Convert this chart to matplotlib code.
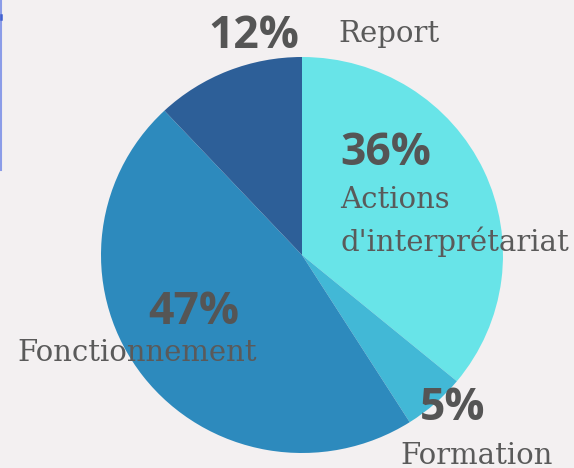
import matplotlib.pyplot as plt
from matplotlib.lines import Line2D

# Budget shares
categories = ["Actions\nd'interprétariat", "Formation", "Fonctionnement", "Report"]
values = [36, 5, 47, 12]
colors = ["#68E4E8", "#42B8D6", "#2D8ABD", "#2D5F98"]

W, H = 574, 468
fig = plt.figure(figsize=(W / 100, H / 100), dpi=100)
fig.patch.set_facecolor("#F3F0F1")

# pie centre approx (302, 255) px, radius ~200 px
cx, cy, rx, ry = 302, 255, 201, 198
ax = fig.add_axes([(cx - rx) / W, 1 - (cy + ry) / H, 2 * rx / W, 2 * ry / H])
ax.set_facecolor("none")
ax.pie(values, colors=colors, startangle=90, counterclock=False,
       wedgeprops=dict(linewidth=0))
ax.set_xlim(-1, 1)
ax.set_ylim(-1, 1)
ax.set_aspect("auto")
ax.axis("off")

# thin accent line on the left edge
fig.add_artist(Line2D([1 / W, 1 / W], [1, 1 - 170 / H], color="#8B9CE8",
                      lw=1.5, transform=fig.transFigure))
fig.add_artist(Line2D([1 / W, 1 / W], [1 - 15 / H, 1 - 19 / H], color="#4060D0",
                      lw=1.8, transform=fig.transFigure))

pct_kw = dict(fontsize=32, fontweight="bold", color="#555555", family="Open Sans",
              va="baseline")
lab_kw = dict(fontsize=21, color="#5A5A5A", family="DejaVu Serif", va="baseline")


def px(x, y):
    return x / W, 1 - y / H


# (percent position, label position) in pixels, text baseline
positions = [
    ((340, 165), (340, 208)),
    ((420, 420), (400, 464)),
    ((148, 324), (17, 361)),
    ((208, 48), (338, 42)),
]
for v, cat, (pp, lp) in zip(values, categories, positions):
    fig.text(*px(*pp), f"{v}%", ha="left", **pct_kw)
    for i, line in enumerate(cat.split("\n")):
        fig.text(*px(lp[0], lp[1] + i * 43), line, ha="left", **lab_kw)

fig.savefig("out.png", dpi=100, facecolor=fig.get_facecolor())
